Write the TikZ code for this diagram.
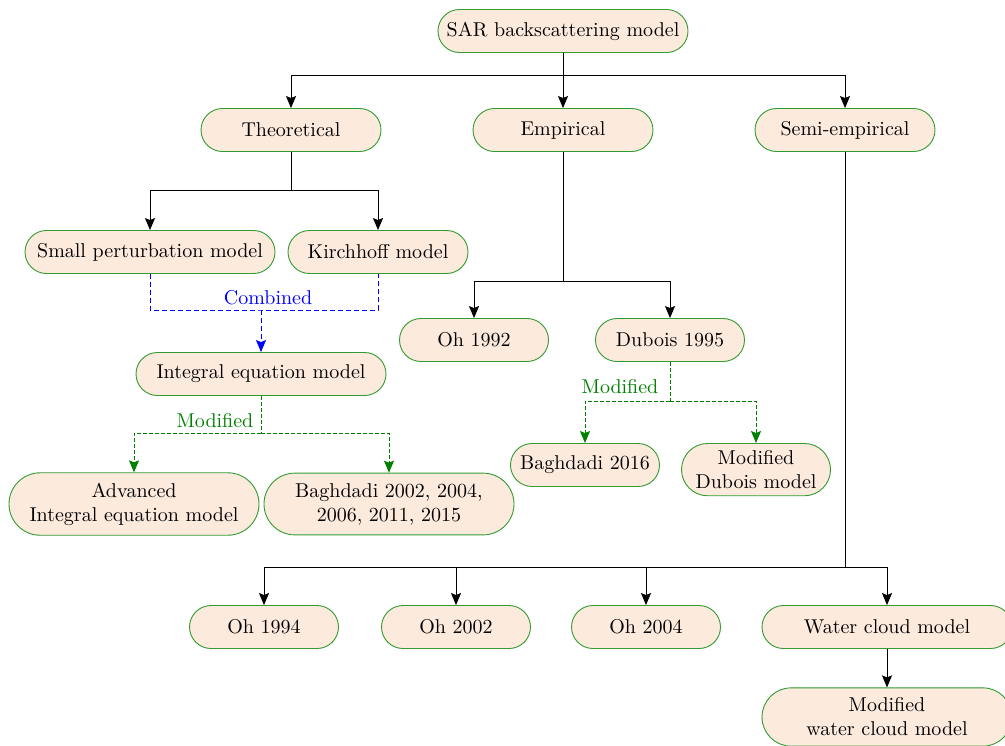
\documentclass[tikz,border=0pt]{standalone}
\usetikzlibrary{arrows.meta,shapes.misc}
\definecolor{boxfill}{RGB}{252,234,221}
\definecolor{boxedge}{RGB}{50,155,50}
\definecolor{modgreen}{RGB}{0,128,0}
\begin{document}
\begin{tikzpicture}[x=0.5pt,y=-0.5pt,
  box/.style={rounded rectangle, draw=boxedge, fill=boxfill, line width=0.45pt,
              minimum height=21.5pt, align=center, inner xsep=4pt, inner ysep=3.5pt},
  narrow/.style={box, minimum width=82.5pt},
  mid/.style={box, minimum width=98pt},
  wide/.style={box, minimum width=133pt},
  tall/.style={inner ysep=5pt},
  tip/.style={-{Stealth[length=6pt,width=5pt,inset=1pt]}},
  link/.style={line width=0.4pt, tip},
  combline/.style={blue, line width=0.4pt, dash pattern=on 2.5pt off 1.5pt},
  comb/.style={combline, tip},
  modline/.style={modgreen, line width=0.4pt, dash pattern=on 1.8pt off 1.2pt},
  modi/.style={modline, tip},
]
\useasboundingbox (0,0) rectangle (1005,745);
\clip (0,0) rectangle (1005,745);

% boxes
\node[wide]   (sar)   at (563,31)  {SAR backscattering model};
\node[mid]    (theo)  at (291,130) {Theoretical};
\node[mid]    (emp)   at (563,130) {Empirical};
\node[mid]    (semi)  at (845,130) {Semi-empirical};
\node[wide]   (spm)   at (150,252) {Small perturbation model};
\node[mid]    (kirch) at (378,252) {Kirchhoff model};
\node[wide]   (iem)   at (261,374) {Integral equation model};
\node[wide,tall] (aiem)  at (134,504) {Advanced\\Integral equation model};
\node[wide,tall] (bag02) at (389,504) {Baghdadi 2002, 2004,\\2006, 2011, 2015};
\node[narrow] (oh92)  at (474,340) {Oh 1992};
\node[narrow] (dub)   at (670,340) {Dubois 1995};
\node[narrow] (bag16) at (585,465) {Baghdadi 2016};
\node[narrow, anchor=north] (mdub) at (756,443) {Modified\\Dubois model};
\node[narrow] (oh94)  at (264,627) {Oh 1994};
\node[narrow] (oh02)  at (456,627) {Oh 2002};
\node[narrow] (oh04)  at (646,627) {Oh 2004};
\node[wide]   (wcm)   at (887,627) {Water cloud model};
\node[wide,tall] (mwcm)  at (887,717) {Modified\\water cloud model};

% main tree
\draw[link] (sar.south) -- ++(0,22) -| (theo.north);
\draw[link] (sar.south) -- (emp.north);
\draw[link] (sar.south) -- ++(0,22) -| (semi.north);

\draw[link] (theo.south) -- ++(0,38) -| (spm.north);
\draw[link] (theo.south) -- ++(0,38) -| (kirch.north);

\draw[link] (emp.south) -- ++(0,129) -| (oh92.north);
\draw[link] (emp.south) -- ++(0,129) -| (dub.north);

\draw[link] (semi.south) -- ++(0,415) -| (oh94.north);
\draw[link] (semi.south) -- ++(0,415) -| (oh02.north);
\draw[link] (semi.south) -- ++(0,415) -| (oh04.north);
\draw[link] (semi.south) -- ++(0,415) -| (wcm.north);
\draw[link] (wcm.south) -- (mwcm.north);

% combination of SPM and Kirchhoff
\coordinate (cj) at (261,310);
\draw[combline] (spm.south) |- (cj) -| (kirch.south);
\draw[comb] (cj) -- (iem.north);
\node[text=blue] (combl) at (268,298) {Combined};

% modifications of IEM
\coordinate (mj) at (261,433);
\draw[modline] (iem.south) -- (mj);
\draw[modi] (mj) -| (aiem.north);
\draw[modi] (mj) -| (bag02.north);
\node[text=modgreen] (modl1) at (215,421) {Modified};

% modifications of Dubois
\coordinate (dj) at (670,401);
\draw[modline] (dub.south) -- (dj);
\draw[modi] (dj) -| (bag16.north);
\draw[modi] (dj) -| (mdub.north);
\node[text=modgreen] (modl2) at (620,387) {Modified};
\end{tikzpicture}
\end{document}
